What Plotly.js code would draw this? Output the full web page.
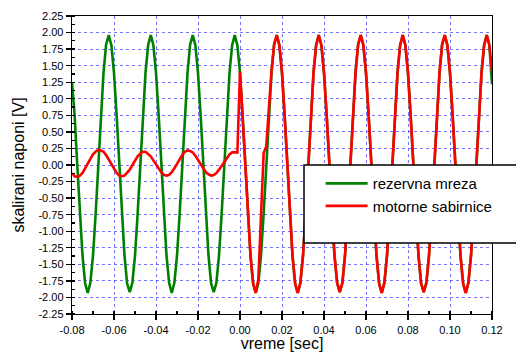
<!DOCTYPE html>
<html>
<head>
<meta charset="utf-8">
<script src="https://cdn.plot.ly/plotly-3.0.1.min.js"></script>
<style>html,body{margin:0;padding:0;background:#fff;}#chart{width:516px;height:360px;}</style>
</head>
<body>
<div id="chart"></div>
<script>
// sampled signals: start time and sample step (seconds)
var tStart = -0.08;
var tStep = 0.00125;

var seriesNames = ["rezervna mreza", "motorne sabirnice"];

// rezervna mreza (green) sampled values [V]
var rezervnaMreza = [
  1.25, 0.75, 0.0, -0.74, -1.37, -1.79, -1.93, -1.78, -1.37, -0.74, 0.0, 0.75, 1.39, 1.82,
  1.96, 1.81, 1.39, 0.75, 0.0, -0.74, -1.37, -1.79, -1.92, -1.78, -1.37, -0.74, 0.0, 0.75, 1.39, 1.81,
  1.96, 1.81, 1.39, 0.76, 0.0, -0.74, -1.37, -1.78, -1.93, -1.78, -1.37, -0.74, 0.0, 0.75, 1.39, 1.82,
  1.96, 1.81, 1.39, 0.75, 0.0, -0.74, -1.37, -1.79, -1.92, -1.78, -1.37, -0.74, 0.0, 0.75, 1.39, 1.81,
  1.96, 1.81, 1.39, 0.75, 0.0, -0.74, -1.37, -1.79, -1.93, -1.78, -1.37, -0.74, 0.0, 0.75, 1.39, 1.82,
  1.96, 1.81, 1.39, 0.75, 0.0, -0.74, -1.37, -1.79, -1.93, -1.78, -1.37, -0.74, 0.0, 0.75, 1.39, 1.81,
  1.96, 1.81, 1.39, 0.76, 0.0, -0.74, -1.37, -1.78, -1.92, -1.78, -1.37, -0.74, 0.0, 0.75, 1.39, 1.82,
  1.96, 1.81, 1.39, 0.75, 0.0, -0.74, -1.37, -1.79, -1.93, -1.78, -1.37, -0.74, 0.0, 0.75, 1.39, 1.81,
  1.96, 1.81, 1.39, 0.75, 0.0, -0.74, -1.37, -1.79, -1.92, -1.78, -1.37, -0.74, 0.0, 0.75, 1.39, 1.82,
  1.96, 1.81, 1.39, 0.75, 0.0, -0.74, -1.37, -1.79, -1.93, -1.78, -1.37, -0.74, 0.0, 0.75, 1.39, 1.81,
  1.96, 1.81, 1.22
];

// motorne sabirnice (red) sampled values [V]
var motorneSabirnice = [
  -0.12, -0.17, -0.18, -0.16, -0.12, -0.05, 0.02, 0.09, 0.16, 0.20, 0.23, 0.22, 0.20, 0.15, 0.08, 0.01,
  -0.06, -0.12, -0.16, -0.17, -0.16, -0.12, -0.07, 0.0, 0.07, 0.13, 0.17, 0.20, 0.20, 0.17, 0.13, 0.07,
  0.01, -0.06, -0.11, -0.15, -0.16, -0.15, -0.11, -0.05, 0.02, 0.09, 0.15, 0.20, 0.22, 0.21, 0.19, 0.14,
  0.08, 0.01, -0.05, -0.11, -0.14, -0.16, -0.15, -0.12, -0.07, -0.01, 0.05, 0.11, 0.16, 0.19, 0.19, 0.19,
  1.41, 0.75, 0.0, -0.74, -1.37, -1.79, -1.93, -1.72, -0.75, 0.18, 0.28, 0.85, 1.42, 1.82,
  1.96, 1.81, 1.39, 0.75, 0.0, -0.74, -1.37, -1.79, -1.93, -1.78, -1.37, -0.74, 0.0, 0.75, 1.39, 1.81,
  1.96, 1.81, 1.39, 0.76, 0.0, -0.74, -1.37, -1.78, -1.92, -1.78, -1.37, -0.74, 0.0, 0.75, 1.39, 1.82,
  1.96, 1.81, 1.39, 0.75, 0.0, -0.74, -1.37, -1.79, -1.93, -1.78, -1.37, -0.74, 0.0, 0.75, 1.39, 1.81,
  1.96, 1.81, 1.39, 0.75, 0.0, -0.74, -1.37, -1.79, -1.92, -1.78, -1.37, -0.74, 0.0, 0.75, 1.39, 1.82,
  1.96, 1.81, 1.39, 0.75, 0.0, -0.74, -1.37, -1.79, -1.93, -1.78, -1.37, -0.74, 0.0, 0.75, 1.39, 1.81,
  1.96, 1.81, 1.41
];

var xTickVals = [-0.08, -0.06, -0.04, -0.02, 0.00, 0.02, 0.04, 0.06, 0.08, 0.10, 0.12];
var xTickText = ["-0.08", "-0.06", "-0.04", "-0.02", "0.00", "0.02", "0.04", "0.06", "0.08", "0.10", "0.12"];
var yTickVals = [-2.25, -2.0, -1.75, -1.5, -1.25, -1.0, -0.75, -0.5, -0.25, 0, 0.25, 0.5, 0.75, 1.0, 1.25, 1.5, 1.75, 2.0, 2.25];
var yTickText = ["-2.25", "-2.00", "-1.75", "-1.50", "-1.25", "-1.00", "-0.75", "-0.50", "-0.25", "0.00", "0.25", "0.50", "0.75", "1.00", "1.25", "1.50", "1.75", "2.00", "2.25"];

var FONT = "Arial, 'Liberation Sans', sans-serif";

var traces = [
  {
    type: "scatter", mode: "lines", name: seriesNames[0],
    x0: tStart, dx: tStep, y: rezervnaMreza,
    line: {color: "#008000", width: 2.6}
  },
  {
    type: "scatter", mode: "lines", name: seriesNames[1],
    x0: tStart, dx: tStep, y: motorneSabirnice,
    line: {color: "#ff0000", width: 2.6}
  }
];

var axisCommon = {
  showline: true, linecolor: "#000", linewidth: 1.3, mirror: true,
  ticks: "outside", ticklen: 5, tickwidth: 1.3, tickcolor: "#000",
  showgrid: true, gridcolor: "rgba(70,70,255,0.75)", gridwidth: 1, griddash: "dot",
  zeroline: false,
  tickfont: {family: FONT, size: 11, color: "#000"}
};

var layout = {
  width: 516, height: 360,
  margin: {l: 72, r: 24, t: 16, b: 46},
  paper_bgcolor: "#fff", plot_bgcolor: "#fff",
  showlegend: true,
  font: {family: FONT, color: "#000"},
  xaxis: Object.assign({}, axisCommon, {
    range: [-0.08, 0.12], tickmode: "array", tickvals: xTickVals, ticktext: xTickText,
    minor: {dtick: 0.01, tick0: 0, ticks: "inside", ticklen: 3, tickcolor: "#000", tickwidth: 1.3, showgrid: false},
    title: {text: "vreme [sec]", font: {family: FONT, size: 16, color: "#000"}, standoff: 3}
  }),
  yaxis: Object.assign({}, axisCommon, {
    range: [-2.25, 2.25], tickmode: "array", tickvals: yTickVals, ticktext: yTickText,
    minor: {dtick: 0.125, tick0: 0, ticks: "inside", ticklen: 3, tickcolor: "#000", tickwidth: 1.3, showgrid: false},
    title: {text: "skalirani naponi [V]", font: {family: FONT, size: 16, color: "#000"}, standoff: 9}
  }),
  legend: {
    x: 0.592, y: 0.493, xanchor: "left", yanchor: "top",
    bgcolor: "rgba(0,0,0,0)", borderwidth: 0,
    font: {family: FONT, size: 15, color: "#000"},
    itemwidth: 42, tracegroupgap: 0
  },
  shapes: [
    {type: "rect", xref: "paper", yref: "paper", x0: 0.5524, x1: 1.12, y0: 0.2383, y1: 0.5,
     line: {color: "#000", width: 1.5}, fillcolor: "#fff", layer: "above"}
  ]
};

Plotly.newPlot("chart", traces, layout, {staticPlot: true, displayModeBar: false});
</script>
</body>
</html>
